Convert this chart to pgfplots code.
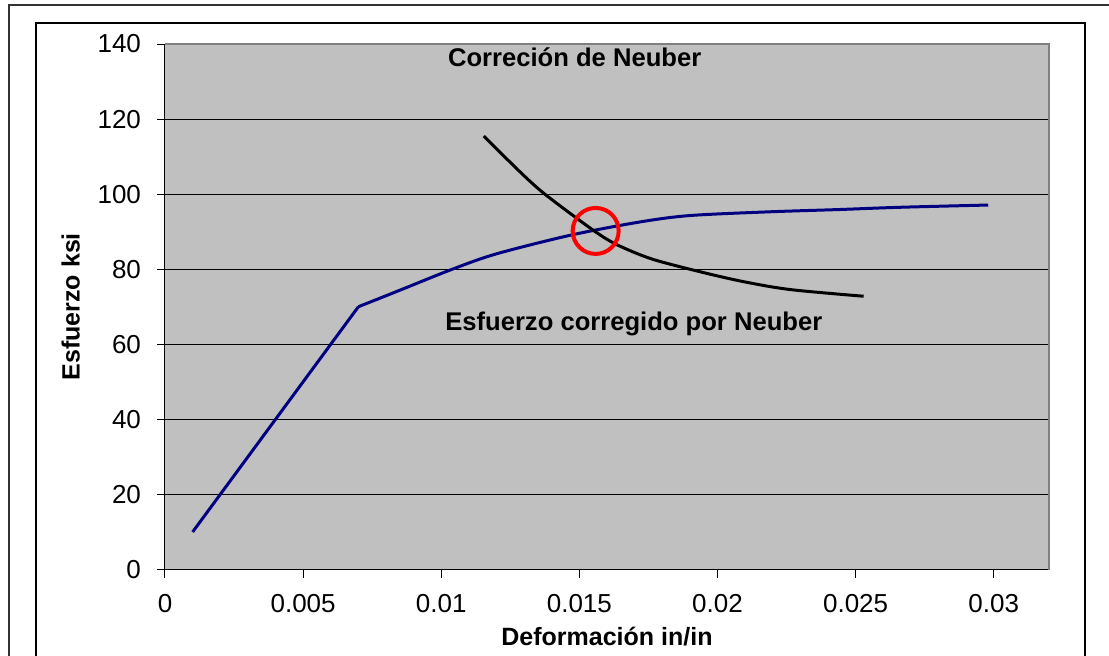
\documentclass[border=0pt]{standalone}
\usepackage{fontspec}
\setmainfont{Liberation Sans}
\usepackage{pgfplots}
\pgfplotsset{compat=1.18}

\definecolor{plotbg}{RGB}{192,192,192}
\definecolor{curveblue}{RGB}{0,0,128}

\begin{document}
\begin{tikzpicture}
\useasboundingbox (-82.5pt,-42.75pt) rectangle (472pt,284.75pt);
\clip (-82.5pt,-42.75pt) rectangle (472pt,284.75pt);
% marcos exteriores
\draw[line width=0.6pt, black!80] (-78pt,-60pt) -- (-78pt,282.25pt) -- (490pt,282.25pt);
\draw[line width=1pt, black] (-64.5pt,-60pt) -- (-64.5pt,273.25pt) -- (460pt,273.25pt) -- (460pt,-60pt);
\begin{axis}[
  at={(0pt,0pt)}, anchor=origin,
  scale only axis,
  width=442pt, height=262.75pt,
  xmin=0, xmax=0.032,
  ymin=0, ymax=140,
  axis background/.style={fill=plotbg},
  axis x line*=bottom, axis y line*=left,
  axis line style={black, line width=0.5pt},
  scaled x ticks=false,
  xtick={0,0.005,0.01,0.015,0.02,0.025,0.03},
  xticklabels={0,0.005,0.01,0.015,0.02,0.025,0.03},
  ytick={0,20,40,60,80,100,120,140},
  tick align=outside,
  major tick length=4pt,
  tick style={black, line width=0.5pt},
  ymajorgrids,
  grid style={black, line width=0.5pt},
  /pgf/number format/assume math mode=true,
  ticklabel style={font=\fontsize{13}{15}\selectfont},
  xticklabel style={yshift=-5pt},
  yticklabel style={xshift=-4.5pt},
  xlabel={\bfseries Deformación in/in},
  ylabel={\bfseries Esfuerzo ksi},
  label style={font=\fontsize{12.5}{14}\selectfont},
  xlabel style={yshift=0pt},
  ylabel style={yshift=2pt},
  clip=false,
]
% esfuerzo-deformacion, tramo elastico
\addplot[curveblue, line width=1.5pt] coordinates {
  (0.001,10)(0.002,20)(0.003,30)(0.004,40)(0.005,50)(0.006,60)(0.007,70)
};
% tramo plastico
\addplot[curveblue, line width=1.5pt, smooth] coordinates {
  (0.007,70)(0.0085,74.4)(0.0104,80)(0.012,84.1)
  (0.0147,89.1)(0.0172,92.6)(0.019,94.3)(0.0219,95.3)(0.0244,95.9)
  (0.0266,96.5)(0.0298,97.1)
};
% Neuber
\addplot[black, line width=1.5pt, smooth] coordinates {
  (0.01154,115.5)(0.0128,106.3)(0.01375,100.0)(0.0155,90.4)(0.01634,86.6)
  (0.01755,82.9)(0.019,80.0)(0.0208,76.9)(0.02261,74.6)(0.02529,72.8)
};
% interseccion
\addplot[red, line width=2pt, only marks, mark=o, mark size=11.5pt] coordinates {(0.01559,90.2)};
\node[font=\fontsize{12.8}{15}\selectfont\bfseries] at (axis cs:0.01483,136.4) {Correción de Neuber};
\node[font=\fontsize{12.8}{15}\selectfont\bfseries] at (axis cs:0.01697,65.4) {Esfuerzo corregido por Neuber};
\draw[gray, line width=0.6pt] (rel axis cs:0,1) -- (rel axis cs:1,1) -- (rel axis cs:1,0);
\end{axis}
\end{tikzpicture}
\end{document}
